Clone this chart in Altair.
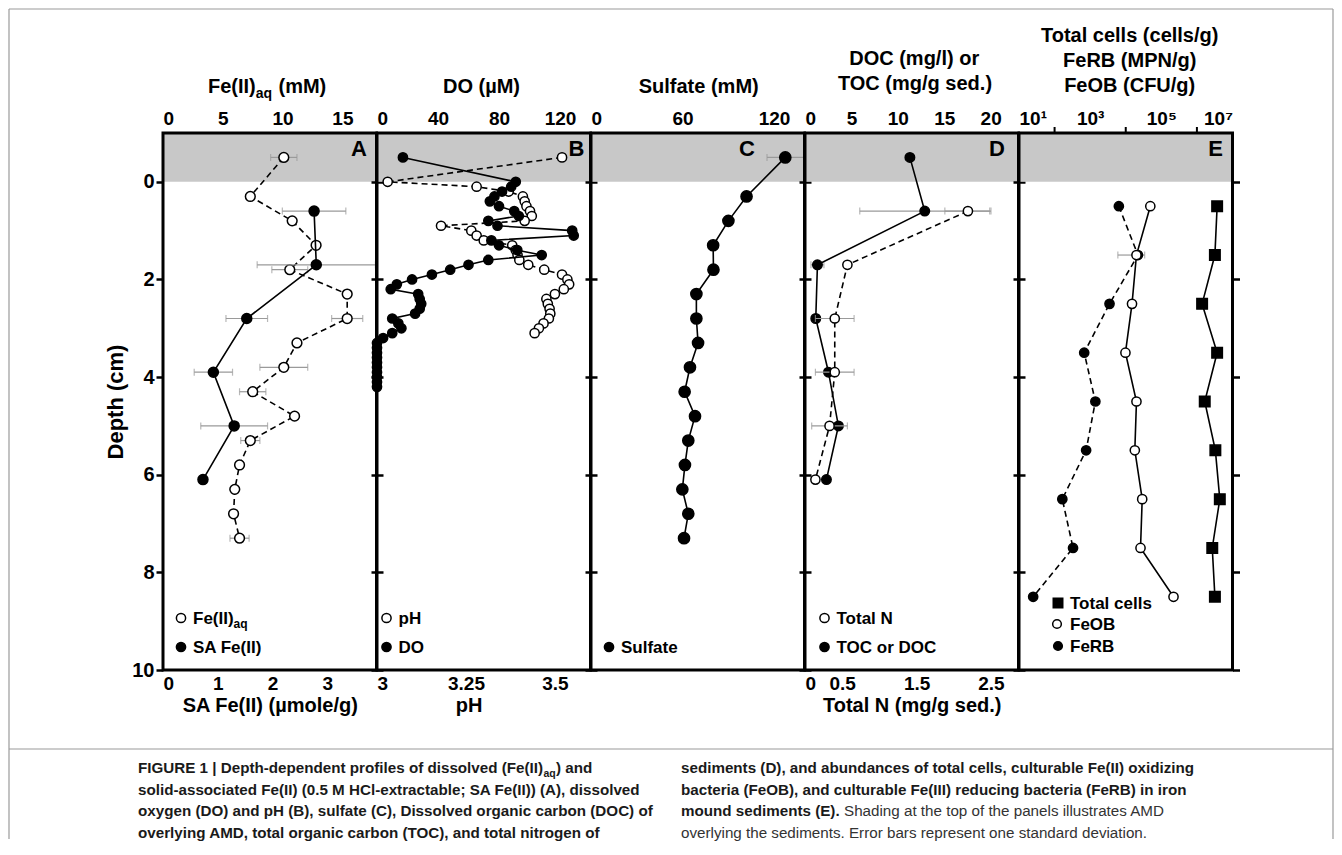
import altair as alt
import pandas as pd

FONT = "Liberation Sans"
W = 213.5
H = 537

# ---------------- data ----------------
# Panel A
feaq_depth = [-0.5, 0.3, 0.8, 1.3, 1.8, 2.3, 2.8, 3.3, 3.8, 4.3, 4.8, 5.3, 5.8, 6.3, 6.8, 7.3]
feaq_val = [10.1, 7.3, 10.8, 12.8, 10.6, 15.4, 15.4, 11.2, 10.1, 7.5, 11.0, 7.3, 6.4, 6.0, 5.9, 6.4]
feaq_sd = [1.1, 0, 0, 0, 1.5, 0, 1.3, 0, 2.0, 1.1, 0, 0.8, 0, 0, 0, 0.8]
safe_depth = [0.6, 1.7, 2.8, 3.9, 5.0, 6.1]
safe_val = [2.76, 2.8, 1.53, 0.92, 1.3, 0.73]
safe_sd = [0.58, 1.08, 0.38, 0.35, 0.61, 0.05]

# Panel B
do_depth = [-0.5, 0.0, 0.1, 0.2, 0.3, 0.4, 0.5, 0.6, 0.7, 0.8, 0.9, 1.0, 1.1, 1.2, 1.3, 1.4,
            1.5, 1.6, 1.7, 1.8, 1.9, 2.0, 2.1, 2.2, 2.3, 2.4, 2.5, 2.6, 2.7, 2.8, 2.9, 3.0,
            3.1, 3.2, 3.3, 3.4, 3.5, 3.6, 3.7, 3.8, 3.9, 4.0, 4.1, 4.2]
do_val = [17, 91, 88, 82, 77, 74, 80, 90, 93, 73, 79, 128, 129, 75, 80, 92,
          108, 73, 60, 48, 36, 23, 13, 9, 27, 28, 29, 28, 25, 10, 14, 16,
          10, 4, 0, 0, 0, 0, 0, 0, 0, 0, 0, 0]
ph_depth = [-0.5, 0.0, 0.1, 0.2, 0.3, 0.4, 0.5, 0.6, 0.7, 0.8, 0.9, 1.0, 1.1, 1.2, 1.3, 1.4,
            1.5, 1.6, 1.7, 1.8, 1.9, 2.0, 2.1, 2.2, 2.3, 2.4, 2.5, 2.6, 2.7, 2.8, 2.9, 3.0, 3.1]
ph_val = [3.52, 3.03, 3.28, 3.37, 3.41, 3.415, 3.42, 3.43, 3.435, 3.415, 3.18, 3.265, 3.28, 3.30,
          3.38, 3.39, 3.395, 3.40, 3.425, 3.47, 3.52, 3.535, 3.54, 3.525, 3.50, 3.476, 3.48,
          3.485, 3.487, 3.483, 3.468, 3.455, 3.443]

# Panel C
sulf_depth = [-0.5, 0.3, 0.8, 1.3, 1.8, 2.3, 2.8, 3.3, 3.8, 4.3, 4.8, 5.3, 5.8, 6.3, 6.8, 7.3]
sulf_val = [127.4, 102, 90.1, 80.1, 80.3, 69.1, 69.1, 70.2, 64.9, 61.4, 68.2, 63.8, 61.6, 59.9, 63.8, 61.0]
sulf_sd = [12, 0, 0, 0, 0, 0, 0, 0, 0, 0, 0, 0, 0, 0, 0, 0]

# Panel D
toc_depth = [-0.5, 0.6, 1.7, 2.8, 3.9, 5.0, 6.1]
toc_val = [11.3, 12.9, 1.34, 1.16, 2.53, 3.6, 2.31]
toc_sd = [0, 7.0, 0.7, 0, 0, 0, 0]
tn_depth = [0.6, 1.7, 2.8, 3.9, 5.0, 6.1]
tn_val = [2.19, 0.57, 0.40, 0.40, 0.33, 0.14]
tn_sd = [0.31, 0, 0.26, 0.26, 0.24, 0]

# Panel E
e_depth = [0.5, 1.5, 2.5, 3.5, 4.5, 5.5, 6.5, 7.5, 8.5]
cells_val = [3.7e6, 3.2e6, 1.4e6, 3.7e6, 1.66e6, 3.3e6, 4.4e6, 2.7e6, 3.2e6]
feob_val = [4.9e4, 2.0e4, 1.5e4, 9.8e3, 2.0e4, 1.8e4, 2.9e4, 2.6e4, 2.2e5]
feob_sd = [0, 1.4e4, 0, 0, 0, 0, 0, 0, 0]
ferb_val = [6.4e3, 2.2e4, 3.5e3, 680, 1.4e3, 770, 165, 330, 25]
e_minor_ticks = [100, 1e4, 1e6]

# ---------------- helpers ----------------
one = pd.DataFrame({"k": [0]})
YVALS = [0, 2, 4, 6, 8, 10]
PLAIN = "datum.value + ''"


def df_of(depth, val):
    return pd.DataFrame({"depth": depth, "v": val})


def err_of(depth, val, sd):
    rows = [{"depth": d, "lo": v - s, "hi": v + s} for d, v, s in zip(depth, val, sd) if s > 0]
    return pd.DataFrame(rows)


def ysc():
    return alt.Scale(domain=[-1, 10], reverse=True, nice=False, zero=False)


def lin(lo, hi):
    return alt.Scale(domain=[lo, hi], nice=False, zero=False)


AX_Y_FIRST = alt.Axis(orient="left", values=YVALS, title="Depth (cm)", labelFontSize=20,
                      labelFontWeight="bold", titleFontSize=22, titleFontWeight="bold",
                      tickSize=7, tickWidth=2.5, tickColor="black", domain=False, grid=False,
                      labelPadding=2, titlePadding=4)
AX_Y_OTHER = alt.Axis(orient="left", values=YVALS, title=None, labels=False, tickSize=12,
                      tickWidth=2.5, tickColor="black", domain=False, grid=False, offset=-6)
AX_Y_RIGHT = alt.Axis(orient="right", values=YVALS, title=None, labels=False, tickSize=7,
                      tickWidth=2.5, tickColor="black", domain=False, grid=False)


def top_axis(values, **kw):
    return alt.Axis(orient="top", values=values, title=None, ticks=False, domain=False, grid=False,
                    labelFontSize=19, labelFontWeight="bold", labelPadding=5, labelExpr=PLAIN,
                    labelOverlap=False, **kw)


def bot_axis(values, title, **kw):
    return alt.Axis(orient="bottom", values=values, title=title, ticks=False, domain=False,
                    grid=False, labelFontSize=19, labelFontWeight="bold", labelPadding=4,
                    titleFontSize=20, titleFontWeight="bold", titlePadding=2, labelExpr=PLAIN,
                    labelOverlap=False, **kw)


def shade(ya):
    return alt.Chart(pd.DataFrame({"depth": [-1], "depth2": [0]})).mark_rect(color="#c8c8c8").encode(
        x=alt.value(0), x2=alt.value(W),
        y=alt.Y("depth:Q", scale=ysc(), axis=ya), y2="depth2:Q")


def ebar(df, xs, xa, ya):
    return alt.Chart(df).mark_errorbar(color="#9a9a9a", thickness=1.2,
                                       ticks={"size": 7, "color": "#9a9a9a"}).encode(
        x=alt.X("lo:Q", scale=xs, axis=xa), x2="hi:Q",
        y=alt.Y("depth:Q", scale=ysc(), axis=ya))


def pline(df, xs, xa, ya, dashed):
    m = dict(color="black", strokeWidth=1.6)
    if dashed:
        m["strokeDash"] = [6, 4]
    return alt.Chart(df).mark_line(**m).encode(
        x=alt.X("v:Q", scale=xs, axis=xa), y=alt.Y("depth:Q", scale=ysc(), axis=ya),
        order="depth:Q")


def ppts(df, xs, xa, ya, filled, size, shape="circle"):
    return alt.Chart(df).mark_point(shape=shape, filled=True, fill="black" if filled else "white",
                                    stroke="black", strokeWidth=1.5, size=size, opacity=1).encode(
        x=alt.X("v:Q", scale=xs, axis=xa), y=alt.Y("depth:Q", scale=ysc(), axis=ya))


def T(s, x, y, size=17, weight="bold", align="left", baseline="alphabetic", color="black"):
    return alt.Chart(one).mark_text(text=s, font=FONT, fontSize=size, fontWeight=weight,
                                    align=align, baseline=baseline, color=color).encode(
        x=alt.value(x), y=alt.value(y))


def LM(x, y, filled, shape="circle", size=85):
    return alt.Chart(one).mark_point(shape=shape, filled=True, fill="black" if filled else "white",
                                     stroke="black", strokeWidth=1.5, size=size, opacity=1).encode(
        x=alt.value(x), y=alt.value(y))


def border():
    return alt.Chart(one).mark_rect(fillOpacity=0, stroke="black", strokeWidth=3).encode(
        x=alt.value(0), x2=alt.value(W), y=alt.value(0), y2=alt.value(H))


def R(x, x2, y, y2):
    return alt.Chart(one).mark_rule(color="#9a9a9a", strokeWidth=1.2).encode(
        x=alt.value(x), x2=alt.value(x2), y=alt.value(y), y2=alt.value(y2))


def letter(s, x):
    return T(s, x, 16, size=22, align="right", baseline="middle")


# ---------------- Panel A ----------------
scA_t = lin(0, 17.85)
scA_b = lin(0, 3.9)
axA_t = top_axis([0, 5, 10, 15])
axA_b = bot_axis([0, 1, 2, 3], "SA Fe(II) (µmole/g)")
ya = AX_Y_FIRST
feaq_df = df_of(feaq_depth, feaq_val)
safe_df = df_of(safe_depth, safe_val)

topA = alt.layer(
    ebar(err_of(feaq_depth, feaq_val, feaq_sd), scA_t, axA_t, ya),
    pline(feaq_df, scA_t, axA_t, ya, True),
    ppts(feaq_df, scA_t, axA_t, ya, False, 95),
)
botA = alt.layer(
    ebar(err_of(safe_depth, safe_val, safe_sd), scA_b, axA_b, ya),
    pline(safe_df, scA_b, axA_b, ya, False),
    ppts(safe_df, scA_b, axA_b, ya, True, 100),
)
LX, RX = -25, 518
CY = [640, 661.5, 683, 704.5]
BC = "#1a1a1a"
CS = 15.2
decoA = alt.layer(
    border(),
    letter("A", 204),
    T("Fe(II)", 45, -40, size=20), T("aq", 92.8, -35, size=14), T("(mM)", 115.5, -40, size=20),
    LM(18, 485, False), T("Fe(II)", 30, 491), T("aq", 70.6, 495, size=12),
    LM(18, 514, True), T("SA Fe(II)", 30, 520),
    # frame
    R(-154, 1170, -124, -124), R(-154, -154, -124, 706), R(1170, 1170, -124, 706),
    R(-154, 1170, 616, 616),
    # caption
    T("FIGURE 1 | Depth-dependent profiles of dissolved (Fe(II)", LX, CY[0], size=CS, color=BC),
    T("aq", LX + 405.5, CY[0] + 3.5, size=10.5, color=BC),
    T(") and", LX + 418, CY[0], size=CS, color=BC),
    T("solid-associated Fe(II) (0.5 M HCl-extractable; SA Fe(II)) (A), dissolved", LX, CY[1], size=CS, color=BC),
    T("oxygen (DO) and pH (B), sulfate (C), Dissolved organic carbon (DOC) of", LX, CY[2], size=CS, color=BC),
    T("overlying AMD, total organic carbon (TOC), and total nitrogen of", LX, CY[3], size=CS, color=BC),
    T("sediments (D), and abundances of total cells, culturable Fe(II) oxidizing", RX, CY[0], size=CS, color=BC),
    T("bacteria (FeOB), and culturable Fe(III) reducing bacteria (FeRB) in iron", RX, CY[1], size=CS, color=BC),
    T("mound sediments (E).", RX, CY[2], size=CS, color=BC),
    T("Shading at the top of the panels illustrates AMD", RX + 163, CY[2], size=CS, weight="normal", color="#333333"),
    T("overlying the sediments. Error bars represent one standard deviation.", RX, CY[3], size=CS, weight="normal", color="#333333"),
)
A = alt.layer(shade(ya), topA, botA, decoA).resolve_scale(x="independent").properties(width=W, height=H)

# ---------------- Panel B ----------------
ya = AX_Y_OTHER
scB_t = lin(0, 140)
scB_b = lin(3.0, 3.6)
axB_t = top_axis([0, 40, 80, 120])
axB_b = bot_axis([3, 3.25, 3.5], "pH", titleX=91.5)
do_df = df_of(do_depth, do_val)
ph_df = df_of(ph_depth, ph_val)
botB = alt.layer(
    pline(ph_df, scB_b, axB_b, ya, True),
    ppts(ph_df, scB_b, axB_b, ya, False, 85),
)
topB = alt.layer(
    pline(do_df, scB_t, axB_t, ya, False),
    ppts(do_df, scB_t, axB_t, ya, True, 85),
)
decoB = alt.layer(
    border(), letter("B", 207.5),
    T("DO (µM)", 104.5, -40, size=20, align="center"),
    LM(9.5, 485, False), T("pH", 21.5, 491),
    LM(9.5, 514, True), T("DO", 21.5, 520),
)
B = alt.layer(shade(ya), botB, topB, decoB).resolve_scale(x="independent").properties(width=W, height=H)

# ---------------- Panel C ----------------
scC = lin(0, 140)
axC = top_axis([0, 60, 120])
sulf_df = df_of(sulf_depth, sulf_val)
C = alt.layer(
    shade(ya),
    ebar(err_of(sulf_depth, sulf_val, sulf_sd), scC, axC, ya),
    pline(sulf_df, scC, axC, ya, False),
    ppts(sulf_df, scC, axC, ya, True, 125),
    border(), letter("C", 164),
    T("Sulfate (mM)", 107.7, -40, size=20, align="center"),
    LM(18, 514, True), T("Sulfate", 30, 520),
).properties(width=W, height=H)

# ---------------- Panel D ----------------
scD_t = lin(0, 23)
scD_b = lin(0, 2.87)
axD_t = top_axis([0, 5, 10, 15, 20])
axD_b = bot_axis([0, 0.5, 1.5, 2.5], "Total N (mg/g sed.)")
toc_df = df_of(toc_depth, toc_val)
tn_df = df_of(tn_depth, tn_val)
topD = alt.layer(
    ebar(err_of(toc_depth, toc_val, toc_sd), scD_t, axD_t, ya),
    pline(toc_df, scD_t, axD_t, ya, False),
)
botD = alt.layer(
    ebar(err_of(tn_depth, tn_val, tn_sd), scD_b, axD_b, ya),
    pline(tn_df, scD_b, axD_b, ya, True),
    ppts(tn_df, scD_b, axD_b, ya, False, 85),
)
topD2 = ppts(toc_df, scD_t, axD_t, ya, True, 90)
decoD = alt.layer(
    border(), letter("D", 200),
    T("DOC (mg/l) or", 109.2, -68, size=20, align="center"),
    T("TOC (mg/g sed.)", 110, -43, size=20, align="center"),
    LM(19.5, 485, False), T("Total N", 31.5, 491),
    LM(19.5, 514, True), T("TOC or DOC", 31.5, 520),
)
D = alt.layer(shade(ya), alt.layer(topD, topD2), botD, decoD).resolve_scale(x="independent").properties(width=W, height=H)

# ---------------- Panel E ----------------
scE = alt.Scale(type="log", domain=[10, 1e7], nice=False)
axE = alt.Axis(orient="top", values=[10, 1e3, 1e5, 1e7], title=None, ticks=False, domain=False,
               grid=False, labelFontSize=19, labelFontWeight="bold", labelPadding=5,
               labelOverlap=False,
               labelExpr="datum.value == 10 ? '10¹' : datum.value == 1000 ? '10³' : datum.value == 100000 ? '10⁵' : '10⁷'")
cells_df = df_of(e_depth, cells_val)
feob_df = df_of(e_depth, feob_val)
ferb_df = df_of(e_depth, ferb_val)
minor = alt.Chart(pd.DataFrame({"v": e_minor_ticks})).mark_rule(color="black", strokeWidth=2).encode(
    x=alt.X("v:Q", scale=scE, axis=axE), y=alt.value(-6), y2=alt.value(0))
mainE = alt.layer(
    shade(ya),
    ebar(err_of(e_depth, feob_val, feob_sd), scE, axE, ya),
    pline(ferb_df, scE, axE, ya, True),
    pline(feob_df, scE, axE, ya, False),
    pline(cells_df, scE, axE, ya, False),
    ppts(ferb_df, scE, axE, ya, True, 85),
    ppts(feob_df, scE, axE, ya, False, 85),
    ppts(cells_df, scE, axE, ya, True, 110, shape="square"),
    minor,
    border(), letter("E", 204),
    T("Total cells (cells/g)", 110.7, -91, size=20, align="center"),
    T("FeRB (MPN/g)", 110.7, -66.5, size=20, align="center"),
    T("FeOB (CFU/g)", 110.7, -41.5, size=20, align="center"),
    LM(39, 470, True, shape="square", size=90), T("Total cells", 51, 476),
    LM(38, 491, False, size=75), T("FeOB", 51, 497),
    LM(39, 513, True, size=75), T("FeRB", 51, 519),
)
rightE = alt.Chart(cells_df).mark_point(opacity=0).encode(
    y=alt.Y("depth:Q", scale=ysc(), axis=AX_Y_RIGHT))
E = alt.layer(mainE, rightE).resolve_scale(y="independent").properties(width=W, height=H)

chart = alt.hconcat(A, B, C, D, E, spacing=0, bounds="flush", padding=0).configure_view(
    strokeWidth=0).configure_axis(labelFont=FONT, titleFont=FONT, labelColor="black",
                                  titleColor="black")

chart.save("out.html", embed_options={"renderer": "svg", "actions": False})
